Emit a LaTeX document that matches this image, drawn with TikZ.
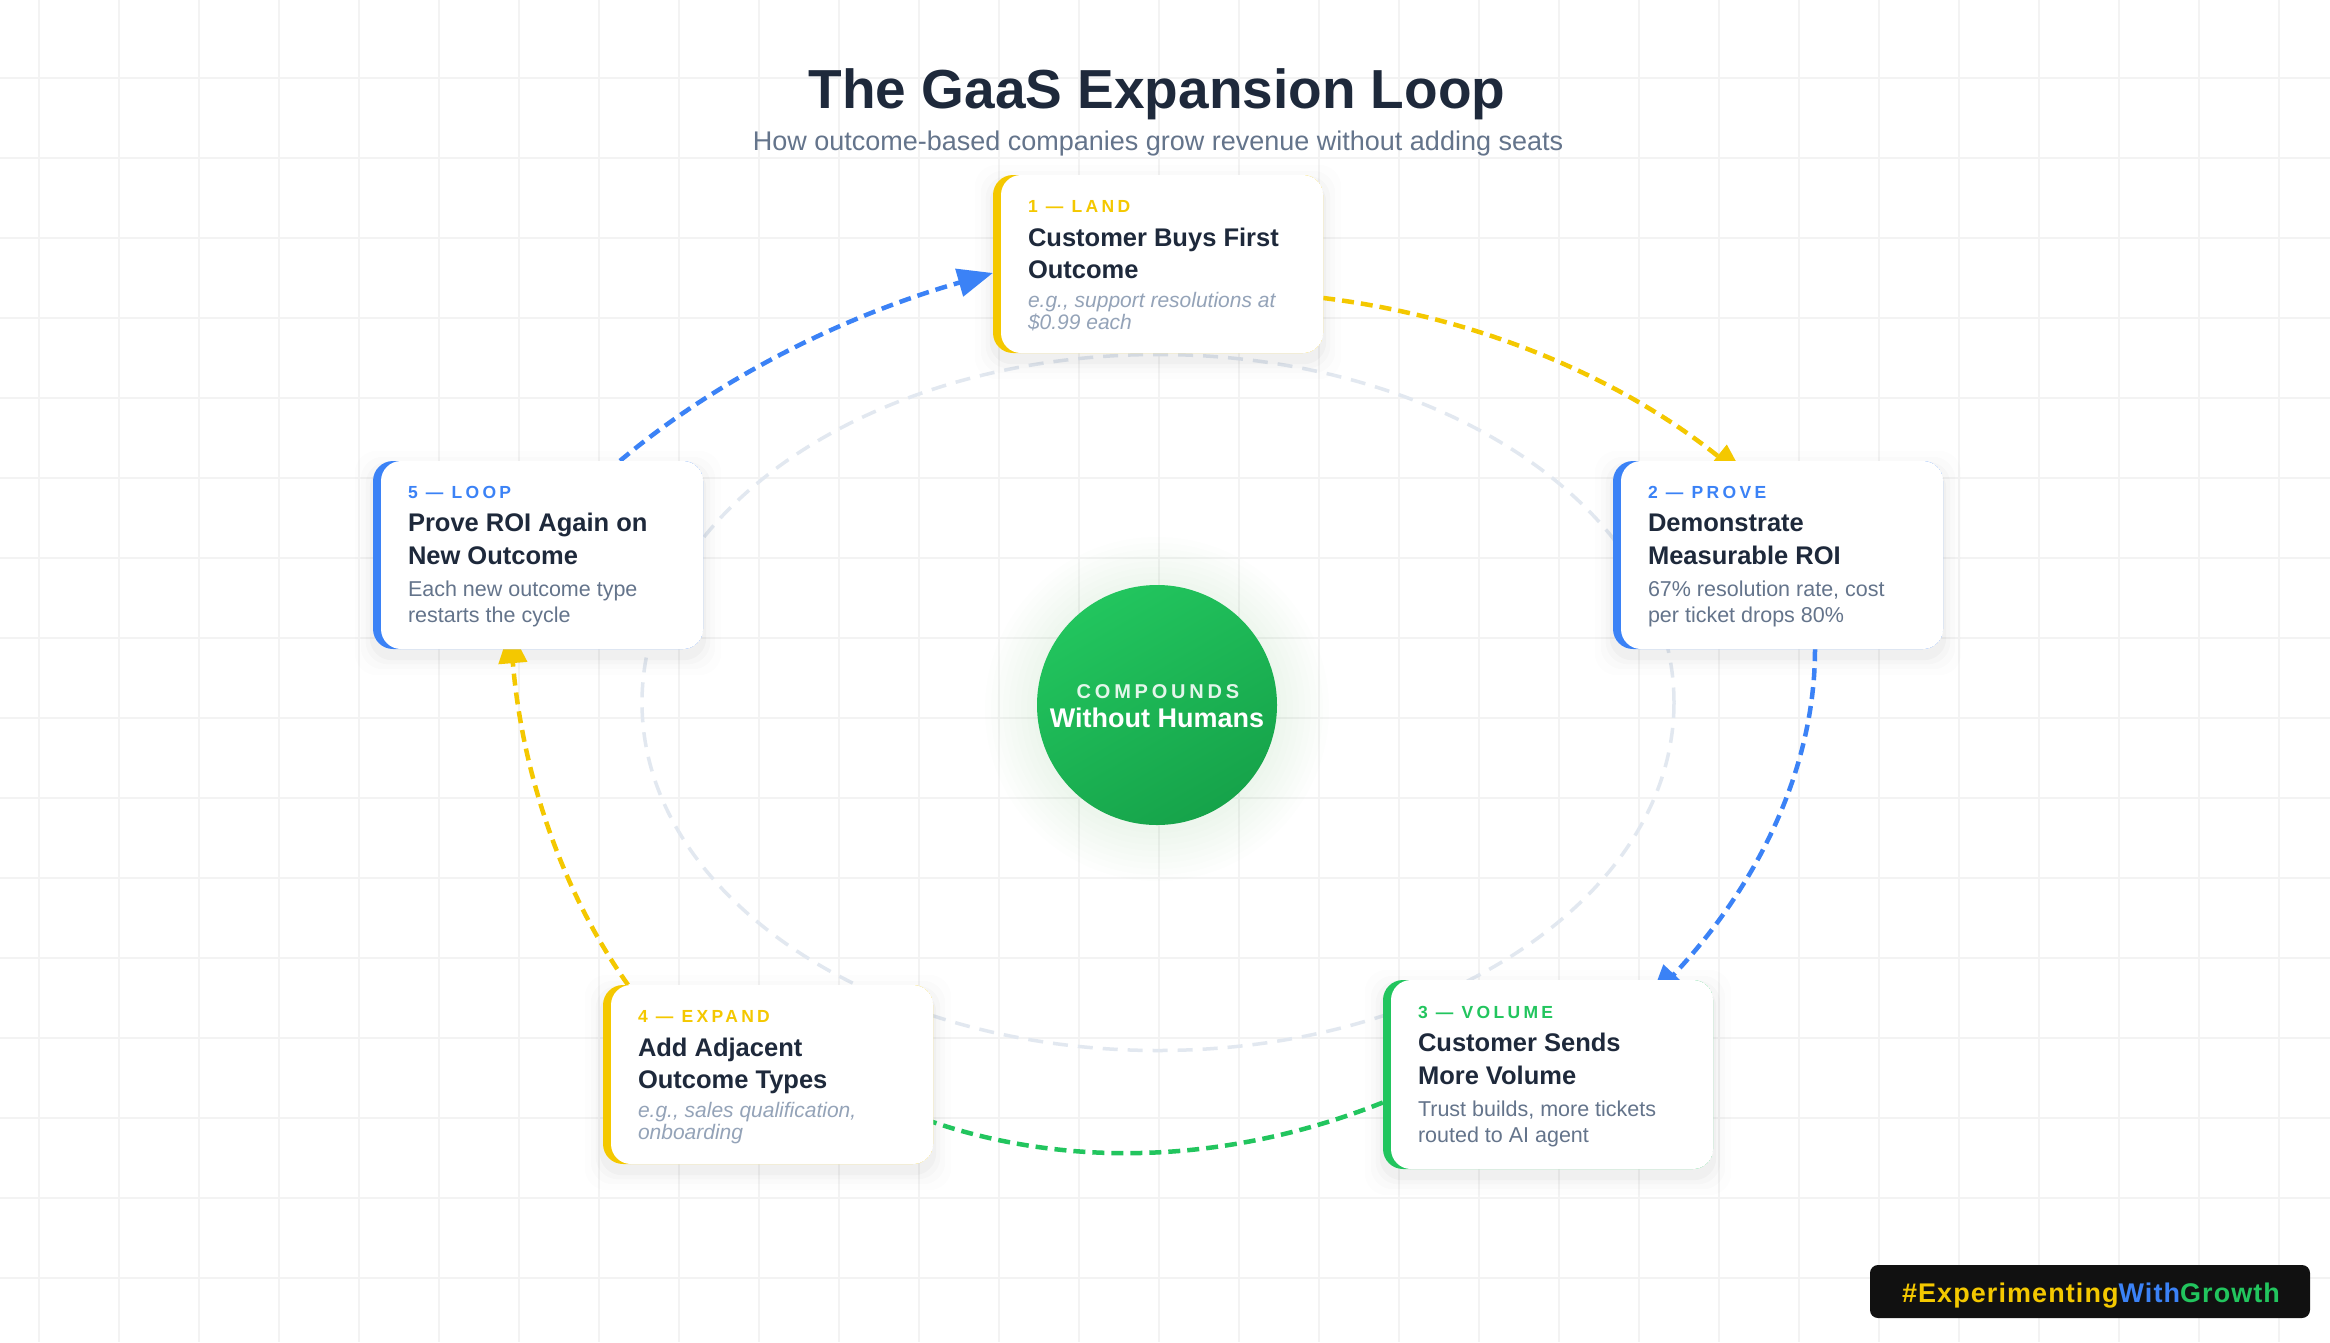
\documentclass[tikz,border=0pt]{standalone}
\usepackage{fontspec}
\setmainfont{Liberation Sans}
\newfontfamily\trackfont{Liberation Sans}[LetterSpace=19]
\newfontfamily\badgefont{Liberation Sans}[LetterSpace=4]
\usetikzlibrary{arrows.meta,calc}
\definecolor{cyel}{HTML}{F4C800}
\definecolor{cblue}{HTML}{3B82F6}
\definecolor{cgreen}{HTML}{22C55E}
\definecolor{cdark}{HTML}{1E293B}
\definecolor{cgray}{HTML}{64748B}
\definecolor{clight}{HTML}{94A3B8}
\definecolor{cgrid}{HTML}{F3F3F3}
\definecolor{cring}{HTML}{E2E8F0}
\definecolor{cbadge}{HTML}{111111}
\definecolor{cg1}{HTML}{22C55E}
\definecolor{cg2}{HTML}{16A34A}
\pgfdeclarelayer{bg}
\pgfdeclarelayer{mid}
\pgfsetlayers{bg,mid,main}
\newcommand\cardshadow[1]{%
  \foreach \s/\o in {3/0.022,7/0.016,12/0.011,18/0.007}{%
    \fill[black, opacity=\o, rounded corners=22pt] ([shift={(-\s,-\s+8)}]#1.north west) rectangle ([shift={(\s,\s+8)}]#1.south east);}}
\begin{document}
\begin{tikzpicture}[x=1pt,y=-1pt,
  gridl/.style={draw=cgrid, line width=1.8pt},
  ringst/.style={draw=cring, line width=3.5pt, dash pattern=on 15pt off 10pt},
  card/.style={rectangle, rounded corners=20pt, fill=white, minimum width=330pt, inner sep=0pt,
    path picture={\fill[#1] (path picture bounding box.south west) rectangle (path picture bounding box.north east);
      \fill[white, rounded corners=20pt] ([xshift=8pt]path picture bounding box.south west) rectangle ([xshift=2pt]path picture bounding box.north east);}},
  lblst/.style={font=\trackfont\bfseries\fontsize{17.5}{20}\selectfont, anchor=base west, inner sep=0pt},
  ttl/.style={font=\bfseries\fontsize{25.5}{30}\selectfont, text=cdark, anchor=base west, inner sep=0pt},
  dsc/.style={font=\fontsize{21.5}{26}\selectfont, text=cgray, anchor=base west, inner sep=0pt},
  dsci/.style={font=\itshape\fontsize{21}{24}\selectfont, text=clight, anchor=base west, inner sep=0pt},
  arr/.style={line width=4.5pt, dash pattern=on 12pt off 7pt, -{Triangle[length=35pt,width=28pt]}}
]
\useasboundingbox (0,0) rectangle (2330,1342);
\begin{pgfonlayer}{bg}
  \fill[white] (0,0) rectangle (2330,1342);
  \foreach \x in {39,119,...,2279} \draw[gridl] (\x,0) -- (\x,1342);
  \foreach \y in {78,158,...,1278} \draw[gridl] (0,\y) -- (2330,\y);
\end{pgfonlayer}

% title
\node[font=\bfseries\fontsize{55}{60}\selectfont, text=cdark, anchor=base, inner sep=0pt] (title) at (1157,108) {The GaaS Expansion Loop};
\node[font=\fontsize{27}{32}\selectfont, text=cgray, anchor=base, inner sep=0pt] (sub) at (1158,150) {How outcome-based companies grow revenue without adding seats};

% cards
\node[card=cyel, minimum height=178pt] (c1) at (1158,264) {};
\node[card=cblue, minimum height=188pt] (c2) at (1778,555) {};
\node[card=cgreen, minimum height=189pt] (c3) at (1548,1074.5) {};
\node[card=cyel, minimum height=179pt] (c4) at (768,1074.5) {};
\node[card=cblue, minimum height=188pt] (c5) at (538,555) {};

\node[lblst, text=cyel] (c1a) at ([shift={(35,38)}]c1.north west) {1 — LAND};
\node[ttl] (c1b) at ([shift={(35,72)}]c1.north west) {Customer Buys First};
\node[ttl] (c1c) at ([shift={(35,104)}]c1.north west) {Outcome};
\node[dsci] (c1d) at ([shift={(35,133)}]c1.north west) {e.g., support resolutions at};
\node[dsci] (c1e) at ([shift={(35,155)}]c1.north west) {\$0.99 each};

\node[lblst, text=cblue] (c2a) at ([shift={(35,38)}]c2.north west) {2 — PROVE};
\node[ttl] (c2b) at ([shift={(35,71)}]c2.north west) {Demonstrate};
\node[ttl] (c2c) at ([shift={(35,104)}]c2.north west) {Measurable ROI};
\node[dsc] (c2d) at ([shift={(35,136)}]c2.north west) {67\% resolution rate, cost};
\node[dsc] (c2e) at ([shift={(35,162)}]c2.north west) {per ticket drops 80\%};

\node[lblst, text=cgreen] (c3a) at ([shift={(35,39)}]c3.north west) {3 — VOLUME};
\node[ttl] (c3b) at ([shift={(35,72)}]c3.north west) {Customer Sends};
\node[ttl] (c3c) at ([shift={(35,105)}]c3.north west) {More Volume};
\node[dsc] (c3d) at ([shift={(35,137)}]c3.north west) {Trust builds, more tickets};
\node[dsc] (c3e) at ([shift={(35,163)}]c3.north west) {routed to AI agent};

\node[lblst, text=cyel] (c4a) at ([shift={(35,38)}]c4.north west) {4 — EXPAND};
\node[ttl] (c4b) at ([shift={(35,72)}]c4.north west) {Add Adjacent};
\node[ttl] (c4c) at ([shift={(35,104)}]c4.north west) {Outcome Types};
\node[dsci] (c4d) at ([shift={(35,133)}]c4.north west) {e.g., sales qualification,};
\node[dsci] (c4e) at ([shift={(35,155)}]c4.north west) {onboarding};

\node[lblst, text=cblue] (c5a) at ([shift={(35,38)}]c5.north west) {5 — LOOP};
\node[ttl] (c5b) at ([shift={(35,71)}]c5.north west) {Prove ROI Again on};
\node[ttl] (c5c) at ([shift={(35,104)}]c5.north west) {New Outcome};
\node[dsc] (c5d) at ([shift={(35,136)}]c5.north west) {Each new outcome type};
\node[dsc] (c5e) at ([shift={(35,162)}]c5.north west) {restarts the cycle};

% ring, shadows, connectors underneath
\begin{pgfonlayer}{mid}
  \draw[ringst] (1158,702.5) ellipse [x radius=516pt, y radius=348pt];
  \cardshadow{c1}\cardshadow{c2}\cardshadow{c3}\cardshadow{c4}\cardshadow{c5}
  \draw[arr, cblue] ([xshift=82pt]c5.north) .. controls (719,378) and (843,316) .. ([yshift=-9pt]c1.west);
  \draw[arr, cyel] ([yshift=-34pt]c1.east) .. controls (1478,317) and (1619,377) .. ([shift={(-33,17)}]c2.north);
  \draw[arr, cblue] ([xshift=37pt]c2.south) .. controls (1815,766) and (1760,883) .. ([shift={(102,20)}]c3.north);
  \draw[arr, cgreen] ([yshift=-28pt]c3.west) .. controls (1221,1167) and (1055,1168) .. ([shift={(-48,30)}]c4.east);
  \draw[arr, cyel] ([xshift=-140pt]c4.north) .. controls (562,892) and (522,773) .. ([shift={(-28,-21)}]c5.south);
\end{pgfonlayer}

% hub
\foreach \r in {172,166,...,124} \fill[cgreen, opacity=0.009] (1157,709) circle [radius=\r pt];
\node[circle, minimum size=240pt, inner sep=0pt, top color=cg1, bottom color=cg2, shading angle=30] (hub) at (1157,705) {};
\node[font=\trackfont\bfseries\fontsize{20}{24}\selectfont, text=white, text opacity=0.88, anchor=base, inner sep=0pt] (hubA) at (1158,698) {COMPOUNDS};
\node[font=\bfseries\fontsize{27}{30}\selectfont, text=white, anchor=base, inner sep=0pt] (hubB) at (1157,727) {Without Humans};

% badge
\node[rectangle, rounded corners=8pt, fill=cbadge, minimum width=440pt, minimum height=53pt, inner sep=0pt] (badge) at (2090,1291.5) {};
\node[font=\badgefont\bfseries\fontsize{27}{30}\selectfont, anchor=base, inner sep=0pt] (badgeT) at (2091,1302) {\textcolor{cyel}{\#Experimenting}\textcolor{cblue}{With}\textcolor{cgreen}{Growth}};
\end{tikzpicture}
\end{document}
